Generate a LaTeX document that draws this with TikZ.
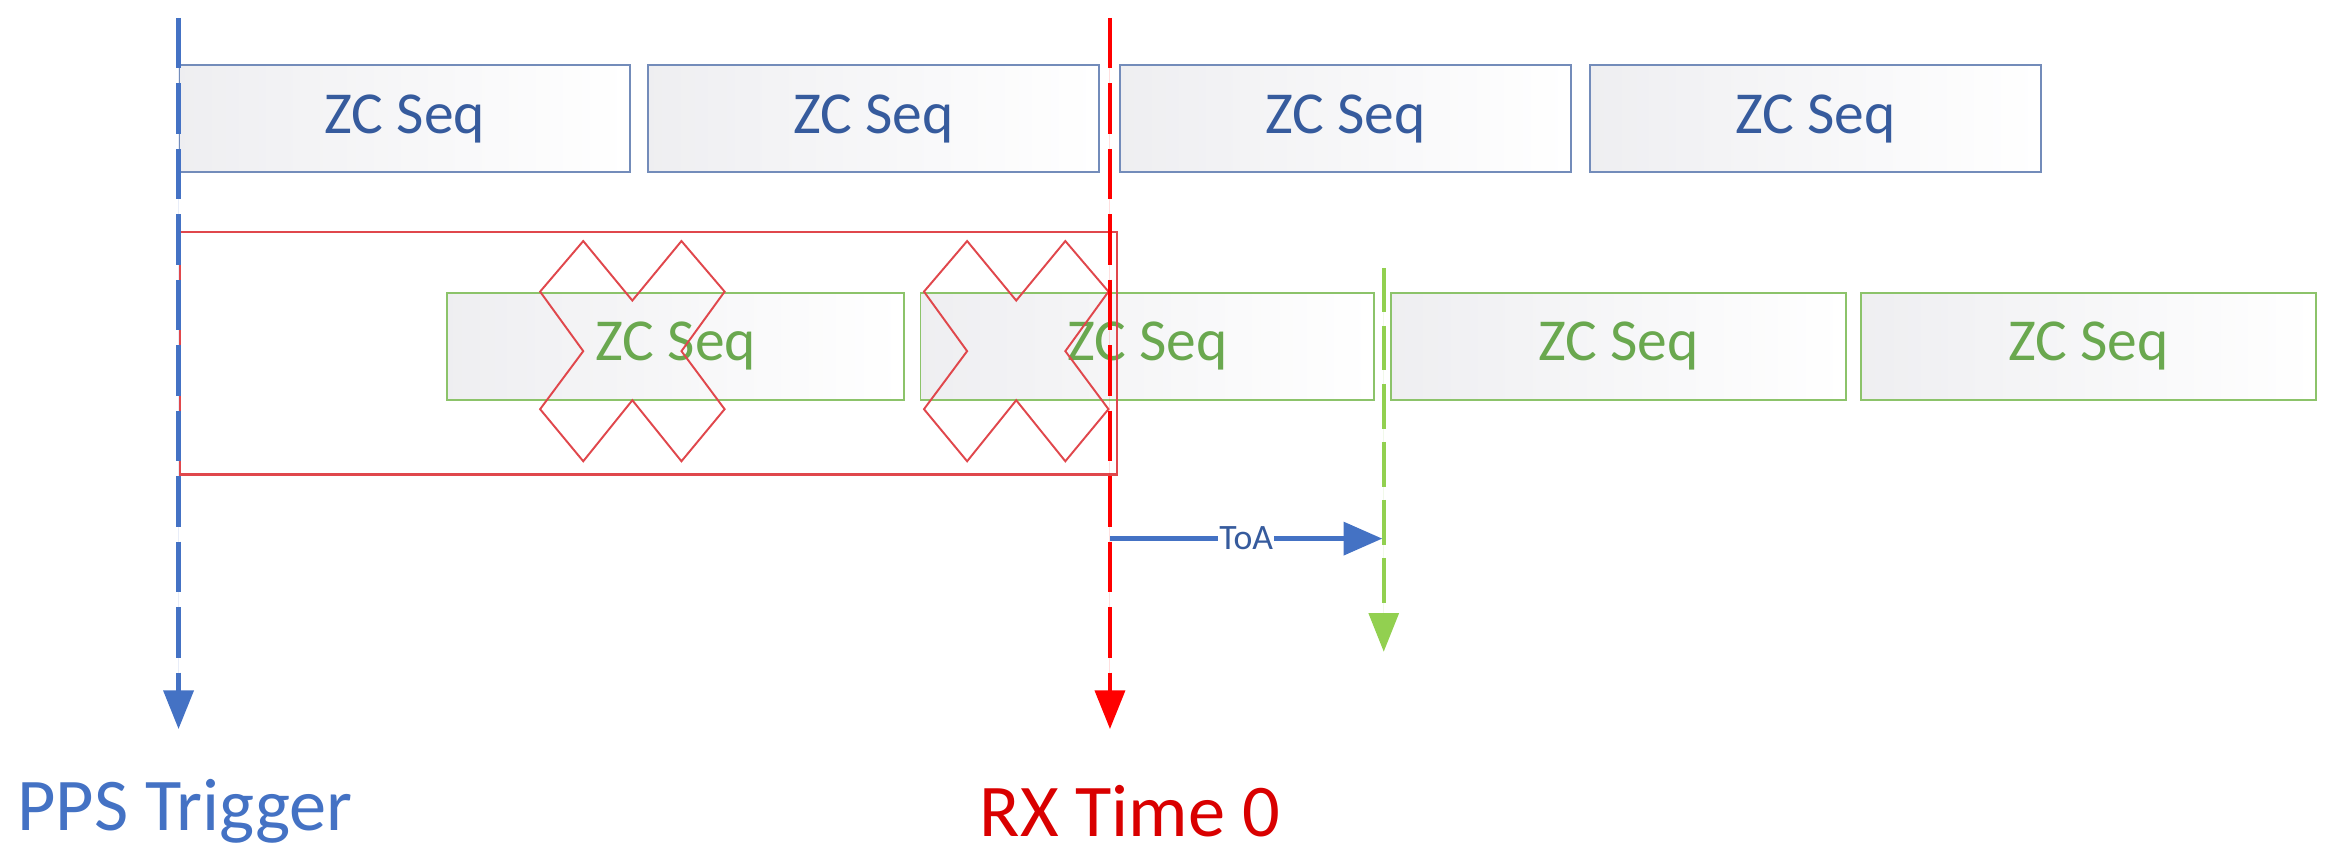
\documentclass[tikz,border=0pt]{standalone}
\usepackage{fontspec}
\setmainfont{Carlito}
\usetikzlibrary{arrows.meta}
\definecolor{bl}{HTML}{4472C4}
\definecolor{rd}{HTML}{FF0000}
\definecolor{rr}{HTML}{E0474C}
\definecolor{gb}{HTML}{8CC36A}
\definecolor{gt}{HTML}{6AA84F}
\definecolor{gl}{HTML}{92D050}
\tikzset{
  x=1pt,y=-1pt,
  seqb/.style={draw=bl!80!black!70,line width=1.3pt,minimum width=303pt,minimum height=72pt,anchor=north west,inner sep=0pt,
    left color=blue!9!gray!12,right color=white,text=bl!80!black,font=\fontsize{40}{40}\selectfont},
  seqg/.style={seqb,draw=gb,text=gt},
  tline/.style={line width=3pt,dash pattern=on 34pt off 10pt,-{Triangle[width=20pt,length=26pt]}},
  cross/.style={draw=rr,line width=1.3pt}
}
\begin{document}
\begin{tikzpicture}
\useasboundingbox (0,0) rectangle (1568,580);
% top row
\node[seqb] (b1) at (120,43) {ZC Seq};
\node[seqb] (b2) at (435,43) {ZC Seq};
\node[seqb] (b3) at (752,43) {ZC Seq};
\node[seqb] (b4) at (1068,43) {ZC Seq};
% green row
\node[seqg,minimum width=307pt] (g1) at (300,196) {ZC Seq};
\node[seqg,minimum width=305pt] (g2) at (618,196) {ZC Seq};
\node[seqg,minimum width=306pt] (g3) at (934,196) {ZC Seq};
\node[seqg,minimum width=306pt] (g4) at (1250,196) {ZC Seq};
% red window
\node[draw=rr,line width=1.6pt,minimum width=630pt,minimum height=163pt,anchor=north west,inner sep=0pt] (win) at (120,155) {};
% crosses
\foreach \cx/\nm in {425/x1,683/x2}{
  \draw[cross] (\cx-33,162) -- (\cx,202) -- (\cx+33,162) -- (\cx+62,196) -- (\cx+33,236) -- (\cx+62,275)
    -- (\cx+33,310) -- (\cx,269) -- (\cx-33,310) -- (\cx-62,275) -- (\cx-33,236) -- (\cx-62,196) -- cycle;
}
% time lines
\coordinate (pt) at (120,12);
\coordinate (pb) at (120,490);
\coordinate (rt) at (746,12);
\coordinate (rb) at (746,490);
\coordinate (gtp) at (930,180);
\coordinate (gbt) at (930,438);
\draw[tline,draw=bl,fill=bl] (pt) -- (pb);
\draw[tline,draw=rd,fill=rd] (rt) -- (rb);
\draw[tline,draw=gl,fill=gl,line width=2.6pt,dash pattern=on 30pt off 9pt] (gtp) -- (gbt);
% ToA
\coordinate (ta) at (746,362);
\coordinate (tb) at (929,362);
\draw[bl,line width=3pt,-{Triangle[width=22pt,length=26pt]}] (ta) -- node[fill=white,inner sep=1pt,text=bl!80!black,font=\fontsize{24}{24}\selectfont] (toa) {ToA} (tb);
% labels
\node[anchor=west,text=bl,font=\fontsize{50}{50}\selectfont] (pps) at (8,545) {PPS Trigger};
\node[anchor=west,text=rd!85!black,font=\fontsize{50}{50}\selectfont] (rx) at (655,545) {RX Time 0};
\end{tikzpicture}
\end{document}
